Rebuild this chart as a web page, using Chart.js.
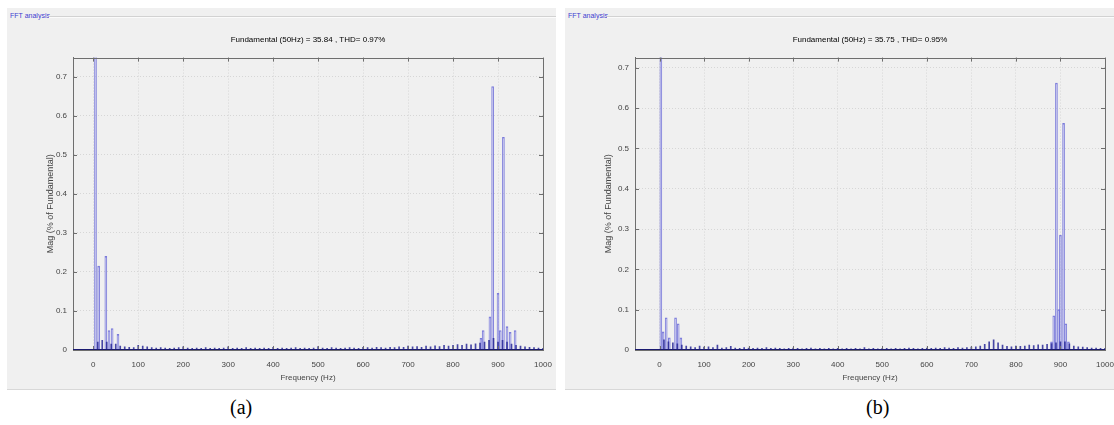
<!DOCTYPE html>
<html>
<head>
<meta charset="utf-8">
<script src="https://cdn.jsdelivr.net/npm/chart.js@4.4.1/dist/chart.umd.min.js"></script>
<style>
  body { margin: 0; background: #fff; width: 1114px; height: 425px; position: relative; overflow: hidden; font-family: Arial, "Liberation Sans", sans-serif; }
  .panel { position: absolute; top: 8px; width: 549px; height: 381px; background: #f0f0f0; border-bottom: 1px solid #d8d8d8; }
  .grp { position: absolute; left: 3px; top: 4px; font-size: 7px; color: #4040d0; }
  .grpline { position: absolute; left: 42px; right: 0; top: 8px; border-top: 1px solid #d2d2d2; border-bottom: 1px solid #fbfbfb; }
  .box { position: absolute; left: 0; top: 14px; width: 549px; height: 367px; }
  .cap { position: absolute; top: 396px; font-family: "Liberation Serif", "DejaVu Serif", serif; font-size: 20px; color: #000; }
</style>
</head>
<body>
<div class="panel" style="left:7px">
  <div class="grp">FFT analysis</div><div class="grpline"></div>
  <div class="box"><canvas id="chartA"></canvas></div>
</div>
<div class="panel" style="left:565px">
  <div class="grp">FFT analysis</div><div class="grpline"></div>
  <div class="box"><canvas id="chartB"></canvas></div>
</div>
<div class="cap" style="left:230px">(a)</div>
<div class="cap" style="left:866px">(b)</div>

<script>
// tick labels
const xTicks = [0, 100, 200, 300, 400, 500, 600, 700, 800, 900, 1000];
const yTicks = [0, 0.1, 0.2, 0.3, 0.4, 0.5, 0.6, 0.7];

// low level harmonic floor, 10 Hz bins
const noiseFreq = [
  10, 20, 30, 40, 50, 60, 70, 80, 90, 100,
  110, 120, 130, 140, 150, 160, 170, 180, 190, 200,
  210, 220, 230, 240, 250, 260, 270, 280, 290, 300,
  310, 320, 330, 340, 350, 360, 370, 380, 390, 400,
  410, 420, 430, 440, 450, 460, 470, 480, 490, 500,
  510, 520, 530, 540, 550, 560, 570, 580, 590, 600,
  610, 620, 630, 640, 650, 660, 670, 680, 690, 700,
  710, 720, 730, 740, 750, 760, 770, 780, 790, 800,
  810, 820, 830, 840, 850, 860, 870, 880, 890, 900,
  910, 920, 930, 940, 950, 960, 970, 980, 990, 1000
];
const noiseA = [
  0.02, 0.025, 0.02, 0.015, 0.015, 0.01, 0.008, 0.007, 0.006, 0.012,
  0.01, 0.008, 0.006, 0.005, 0.006, 0.005, 0.004, 0.005, 0.006, 0.008,
  0.005, 0.004, 0.005, 0.004, 0.006, 0.004, 0.005, 0.004, 0.005, 0.008,
  0.004, 0.005, 0.004, 0.006, 0.004, 0.005, 0.004, 0.005, 0.004, 0.007,
  0.004, 0.005, 0.004, 0.005, 0.006, 0.004, 0.005, 0.004, 0.005, 0.009,
  0.005, 0.004, 0.006, 0.005, 0.004, 0.005, 0.006, 0.005, 0.004, 0.007,
  0.006, 0.005, 0.007, 0.006, 0.005, 0.007, 0.006, 0.008, 0.007, 0.01,
  0.008, 0.009, 0.007, 0.01, 0.008, 0.011, 0.009, 0.012, 0.01, 0.012,
  0.014, 0.012, 0.015, 0.013, 0.016, 0.018, 0.02, 0.025, 0.03, 0.02,
  0.025, 0.02, 0.015, 0.012, 0.01, 0.008, 0.007, 0.006, 0.005, 0.004
];
const noiseB = [
  0.025, 0.02, 0.018, 0.015, 0.012, 0.01, 0.008, 0.006, 0.01, 0.007,
  0.008, 0.006, 0.012, 0.005, 0.006, 0.009, 0.005, 0.004, 0.006, 0.005,
  0.004, 0.005, 0.004, 0.006, 0.004, 0.005, 0.004, 0.003, 0.004, 0.005,
  0.004, 0.003, 0.004, 0.005, 0.003, 0.004, 0.003, 0.004, 0.003, 0.004,
  0.003, 0.004, 0.003, 0.004, 0.003, 0.006, 0.003, 0.004, 0.003, 0.004,
  0.004, 0.003, 0.004, 0.003, 0.004, 0.005, 0.004, 0.003, 0.004, 0.005,
  0.004, 0.005, 0.004, 0.006, 0.005, 0.004, 0.006, 0.005, 0.006, 0.007,
  0.008, 0.01, 0.014, 0.02, 0.025, 0.018, 0.012, 0.009, 0.008, 0.01,
  0.009, 0.01, 0.012, 0.011, 0.013, 0.012, 0.014, 0.016, 0.018, 0.02,
  0.02, 0.015, 0.01, 0.008, 0.007, 0.006, 0.005, 0.005, 0.004, 0.004
];

// main spectral lines
const peakFreqA = [5, 12, 28, 35, 42, 55, 862, 867, 882, 888, 900, 905, 912, 920, 927, 938];
const peakMagA  = [1.0, 0.215, 0.24, 0.05, 0.055, 0.04, 0.03, 0.05, 0.085, 0.675, 0.145, 0.05, 0.545, 0.06, 0.045, 0.05];
const peakFreqB = [3, 8, 15, 22, 36, 42, 48, 880, 885, 891, 896, 900, 907, 912, 918];
const peakMagB  = [1.0, 0.045, 0.08, 0.03, 0.08, 0.065, 0.03, 0.02, 0.085, 0.662, 0.1, 0.285, 0.562, 0.065, 0.02];

const titleA = 'Fundamental (50Hz) = 35.84 , THD= 0.97%';
const titleB = 'Fundamental (50Hz) = 35.75 , THD= 0.95%';

const framePlugin = {
  id: 'frame',
  afterDraw(chart) {
    const {ctx, chartArea: a, scales} = chart;
    ctx.save();
    ctx.strokeStyle = '#6e6e6e';
    ctx.lineWidth = 1;
    ctx.strokeRect(Math.round(a.left) + 0.5, Math.round(a.top) + 0.5, Math.round(a.right - a.left), Math.round(a.bottom - a.top));
    ctx.beginPath();
    xTicks.forEach(v => {
      const x = Math.round(scales.x.getPixelForValue(v)) + 0.5;
      ctx.moveTo(x, a.bottom); ctx.lineTo(x, a.bottom - 4);
      ctx.moveTo(x, a.top); ctx.lineTo(x, a.top + 4);
    });
    yTicks.forEach(v => {
      const y = Math.round(scales.y.getPixelForValue(v)) + 0.5;
      ctx.moveTo(a.left, y); ctx.lineTo(a.left + 4, y);
      ctx.moveTo(a.right, y); ctx.lineTo(a.right - 4, y);
    });
    ctx.stroke();
    // dark baseline of the spectrum
    ctx.strokeStyle = '#1a1a70';
    ctx.beginPath();
    ctx.moveTo(a.left, Math.round(a.bottom) - 0.5);
    ctx.lineTo(a.right, Math.round(a.bottom) - 0.5);
    ctx.stroke();
    ctx.restore();
  }
};

function makeChart(id, title, noise, pf, pm, xmin, ymax, yWidth, padRight) {
  const ctx = document.getElementById(id).getContext('2d');
  return new Chart(ctx, {
    type: 'bar',
    data: {
      datasets: [{
        data: noiseFreq.map((f, i) => ({x: f, y: noise[i]})),
        backgroundColor: 'rgba(40,40,150,0.85)',
        borderWidth: 0,
        barThickness: 1,
        grouped: false
      }, {
        data: pf.map((f, i) => ({x: f, y: pm[i]})),
        backgroundColor: 'rgba(175,175,240,0.6)',
        borderColor: 'rgba(110,110,215,0.9)',
        borderWidth: 1,
        barThickness: 2,
        grouped: false
      }]
    },
    options: {
      responsive: true,
      maintainAspectRatio: false,
      animation: false,
      layout: { padding: { left: 0, right: padRight, top: 0, bottom: 0 } },
      plugins: {
        legend: { display: false },
        tooltip: { enabled: false },
        title: {
          display: true,
          text: title,
          fullSize: false,
          color: '#000',
          font: { size: 8, family: 'Arial', weight: 'normal' },
          padding: { top: 13, bottom: 13 }
        }
      },
      scales: {
        x: {
          type: 'linear',
          offset: false,
          min: xmin,
          max: 1000,
          afterBuildTicks: s => { s.ticks = xTicks.map(v => ({value: v})); },
          afterFit: s => { s.height = 39; s.paddingLeft = 0; s.paddingRight = 0; },
          grid: { color: '#d6d6d6', drawTicks: false, offset: false },
          border: { display: true, color: '#333', dash: [1, 2] },
          ticks: { color: '#444', font: { size: 8 }, padding: 10, maxRotation: 0, autoSkip: false, callback: v => String(v) },
          title: { display: true, text: 'Frequency (Hz)', color: '#444', font: { size: 8 }, padding: { top: 0, bottom: 6 } }
        },
        y: {
          min: 0,
          max: ymax,
          afterBuildTicks: s => { s.ticks = yTicks.map(v => ({value: v})); },
          afterFit: s => { s.width = yWidth; s.paddingTop = 0; s.paddingBottom = 0; },
          grid: { color: '#d6d6d6', drawTicks: false },
          border: { display: true, color: '#6e6e6e', dash: [1, 2] },
          ticks: { color: '#444', font: { size: 8 }, padding: 6, callback: v => String(+v.toFixed(1)) },
          title: { display: true, text: 'Mag (% of Fundamental)', color: '#444', font: { size: 9 }, padding: { top: 38, bottom: 0 } }
        }
      }
    },
    plugins: [framePlugin]
  });
}

makeChart('chartA', titleA, noiseA, peakFreqA, peakMagA, -45, 0.749, 66, 13);
makeChart('chartB', titleB, noiseB, peakFreqB, peakMagB, -55, 0.725, 70, 9);
</script>
</body>
</html>
